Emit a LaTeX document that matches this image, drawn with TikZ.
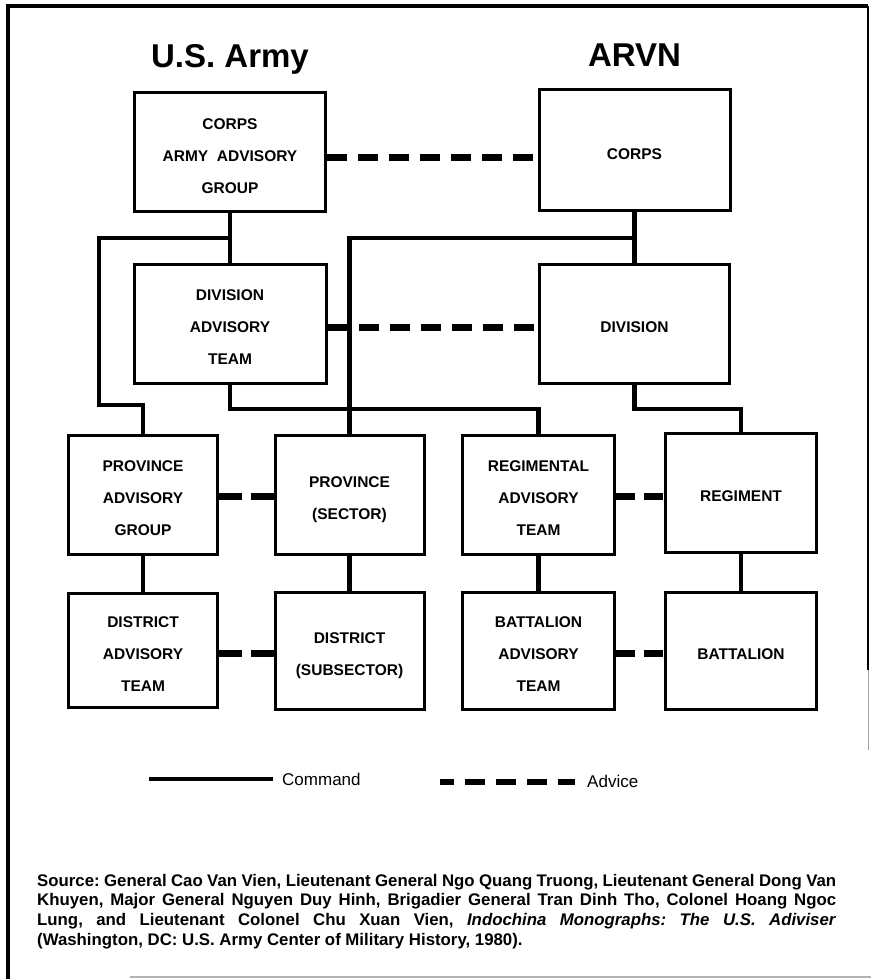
\documentclass[tikz,border=0pt]{standalone}
\usepackage{fontspec}
\setmainfont{Liberation Sans}
\usetikzlibrary{calc}
\newcommand{\bxt}[1]{\raisebox{-6.5pt}[0pt][0pt]{\begin{tabular}{@{}c@{}}#1\end{tabular}}}
\begin{document}
\begin{tikzpicture}[x=1pt,y=-1pt,
  box/.style={draw, line width=3pt, fill=white, inner sep=0pt,
    font=\bfseries\fontsize{15.5}{32}\selectfont},
  cmd/.style={line width=4.5pt, line join=miter},
  adv/.style={line width=7pt, dash pattern=on 20pt off 11pt},
  ttl/.style={font=\bfseries\fontsize{33}{40}\selectfont, inner sep=0pt, anchor=base},
  leg/.style={font=\fontsize{17}{20}\selectfont, inner sep=0pt, anchor=base west},
  frame/.style={line width=4pt, line join=miter},
]
\useasboundingbox (0,0) rectangle (871,979);
% frame
\draw[frame] (8,979) -- (8,6) -- (868,6);
\draw[line width=2pt] (868,6) -- (868,670);
\draw[line width=1pt, black!35] (868,670) -- (868,750);
\draw[line width=1.5pt, black!30] (130,977) -- (871,977);

% titles
\node[ttl] (tus) at (230,68) {U.S. Army};
\node[ttl] (tarvn) at (634.5,67) {ARVN};

% boxes
\node[box, minimum width=191pt, minimum height=118pt] (cag) at (230,152) {\bxt{CORPS\\ARMY\ \ ADVISORY\\GROUP}};
\node[box, minimum width=191pt, minimum height=120pt] (acorps) at (634.5,150) {\bxt{CORPS}};
\node[box, minimum width=192pt, minimum height=119pt] (dat) at (230,323.5) {\bxt{DIVISION\\ADVISORY\\TEAM}};
\node[box, minimum width=190pt, minimum height=119pt] (adiv) at (634.5,323.5) {\bxt{DIVISION}};

\node[box, minimum width=149pt, minimum height=119pt] (pag) at (143,494.5) {\bxt{PROVINCE\\ADVISORY\\GROUP}};
\node[box, minimum width=149pt, minimum height=119pt] (pse) at (349.5,494.5) {\bxt{PROVINCE\\(SECTOR)}};
\node[box, minimum width=152pt, minimum height=119pt] (rat) at (538.5,494.5) {\bxt{REGIMENTAL\\ADVISORY\\TEAM}};
\node[box, minimum width=151pt, minimum height=119pt] (reg) at (741,492.5) {\bxt{REGIMENT}};

\node[box, minimum width=149pt, minimum height=114pt] (dis) at (143,650) {\bxt{DISTRICT\\ADVISORY\\TEAM}};
\node[box, minimum width=149pt, minimum height=117pt] (dsub) at (349.5,650.5) {\bxt{DISTRICT\\(SUBSECTOR)}};
\node[box, minimum width=152pt, minimum height=117pt] (bat) at (538.5,650.5) {\bxt{BATTALION\\ADVISORY\\TEAM}};
\node[box, minimum width=151pt, minimum height=117pt] (batn) at (741,650.5) {\bxt{BATTALION}};

% command connectors
\coordinate (j1) at (230,238);
\coordinate (b1) at (99,238);
\coordinate (b2) at (99,405);
\coordinate (j2) at (634.5,238);
\coordinate (b3) at (230,409);
\coordinate (b4) at (634.5,409);

\draw[cmd] (cag.south) -- (dat.north);
\draw[cmd] (j1) -- (b1) -- (b2) -| (pag.north);
\draw[cmd] (acorps.south) -- (adiv.north);
\draw[cmd] (j2) -| (pse.north);
\draw[cmd] (dat.south) -- (b3) -| (rat.north);
\draw[cmd] (adiv.south) -- (b4) -| (reg.north);
\draw[cmd] (pag.south) -- (dis.north);
\draw[cmd] (pse.south) -- (dsub.north);
\draw[cmd] (rat.south) -- (bat.north);
\draw[cmd] (reg.south) -- (batn.north);

% advice connectors
\draw[adv] ($(cag.east)+(0,5)$) -- ($(cag.east -| acorps.west)+(0,5)$);
\draw[adv] ($(dat.east)+(0,3.5)$) -- ($(dat.east -| adiv.west)+(0,3.5)$);
\draw[adv, dash pattern=on 23pt off 9pt] ($(pag.east)+(0,2)$) -- ($(pag.east -| pse.west)+(0,2)$);
\draw[adv, dash pattern=on 19pt off 9pt] ($(rat.east)+(0,2)$) -- ($(rat.east -| reg.west)+(0,2)$);
\draw[adv, dash pattern=on 23pt off 9pt] ($(dis.east)+(0,3)$) -- ($(dis.east -| dsub.west)+(0,3)$);
\draw[adv, dash pattern=on 19pt off 9pt] ($(bat.east)+(0,3)$) -- ($(bat.east -| batn.west)+(0,3)$);

% legend
\coordinate (lc1) at (149,779);
\coordinate (lc2) at (273,779);
\draw[cmd] (lc1) -- (lc2);
\node[leg] (lcmd) at (282,785) {Command};
\coordinate (la1) at (440,782);
\coordinate (la2) at (575,782);
\draw[line width=5.5pt, dash pattern=on 20pt off 11pt, dash phase=6pt] (la1) -- (la2);
\node[leg] (ladv) at (587,787) {Advice};

% source
\node[anchor=north west, inner sep=0pt, text width=799pt, align=justify,
  font=\bfseries\fontsize{16.8}{19.6}\selectfont] (src) at (37,874)
  {\frenchspacing\hyphenpenalty=10000\exhyphenpenalty=10000
  Source: General Cao Van Vien, Lieutenant General Ngo Quang Truong, Lieutenant General Dong Van\linebreak
  Khuyen, Major General Nguyen Duy Hinh, Brigadier General Tran Dinh Tho, Colonel Hoang Ngoc\linebreak
  Lung, and Lieutenant Colonel Chu Xuan Vien, \textit{Indochina Monographs: The U.S. Adiviser}\linebreak
  (Washington, DC: U.S. Army Center of Military History, 1980).};
\end{tikzpicture}
\end{document}
